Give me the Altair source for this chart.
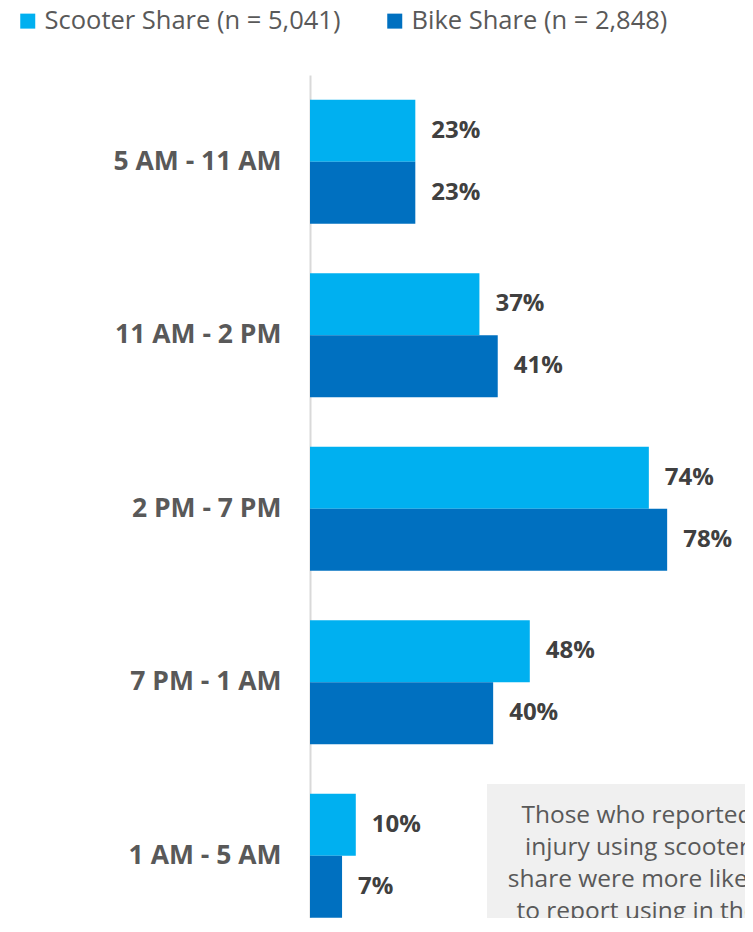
import altair as alt
import pandas as pd

categories = ["5 AM - 11 AM", "11 AM - 2 PM", "2 PM - 7 PM", "7 PM - 1 AM", "1 AM - 5 AM"]
series = ["Scooter Share (n = 5,041)", "Bike Share (n = 2,848)"]
scooter = [23, 37, 74, 48, 10]
bike = [23, 41, 78, 40, 7]
colors = ["#00B0F0", "#0070C0"]
note_lines = ["Those who reported", "injury using scooter", "share were more likely", "to report using in the"]

rows = []
for c, s, b in zip(categories, scooter, bike):
    rows.append({"period": c, "series": series[0], "value": s, "label": f"{s}%"})
    rows.append({"period": c, "series": series[1], "value": b, "label": f"{b}%"})
df = pd.DataFrame(rows)

FONT = "Open Sans"

y_scale = alt.Scale(paddingInner=0.284, paddingOuter=0.0715, align=0.995)
y_enc = alt.Y("period:N", sort=categories, scale=y_scale,
              axis=alt.Axis(title=None, ticks=False, domain=True, domainColor="#D9D9D9",
                            domainWidth=2, labelFontSize=26.5, labelFontWeight="bold",
                            labelColor="#595959", labelPadding=29, labelFont=FONT,
                            labelLimit=0))
x_enc = alt.X("value:Q", scale=alt.Scale(domain=[0, 95.0], nice=False), axis=None)
yoff = alt.YOffset("series:N", sort=series, scale=alt.Scale(paddingInner=0, paddingOuter=0))

base = alt.Chart(df)

bars = base.mark_bar(size=62).encode(
    y=y_enc, x=x_enc, yOffset=yoff,
    color=alt.Color("series:N", sort=series,
                    scale=alt.Scale(domain=series, range=colors),
                    legend=alt.Legend(title=None, orient="none", legendX=-295, legendY=-67,
                                      direction="horizontal", symbolType="square",
                                      symbolSize=225, symbolStrokeWidth=0,
                                      labelFontSize=25.5, labelColor="#595959", labelFont=FONT,
                                      labelOffset=4, columnPadding=41, padding=0,
                                      labelLimit=0)),
)

labels = base.mark_text(align="left", baseline="middle", dx=16, fontSize=24,
                        fontWeight="bold", color="#404040", font=FONT).encode(
    y=alt.Y("period:N", sort=categories), x="value:Q", yOffset=yoff, text="label:N")

box = alt.Chart(pd.DataFrame({"a": [0]})).mark_rect(color="#F0F0F0").encode(
    x=alt.value(177), x2=alt.value(435), y=alt.value(709), y2=alt.value(1000))

note = alt.Chart(pd.DataFrame({"t": [note_lines]})).mark_text(
    align="center", baseline="alphabetic", fontSize=24.5, lineHeight=32,
    color="#595959", font=FONT).encode(
    x=alt.value(327), y=alt.value(748), text="t")

chart = alt.layer(box, bars, labels, note).properties(
    width=435, height=843,
    padding={"left": 302, "top": 67, "right": 0, "bottom": 0},
    autosize=alt.AutoSizeParams(type="none"),
).configure_view(stroke=None)

chart.save("out.html", embed_options={"renderer": "svg", "actions": False})
